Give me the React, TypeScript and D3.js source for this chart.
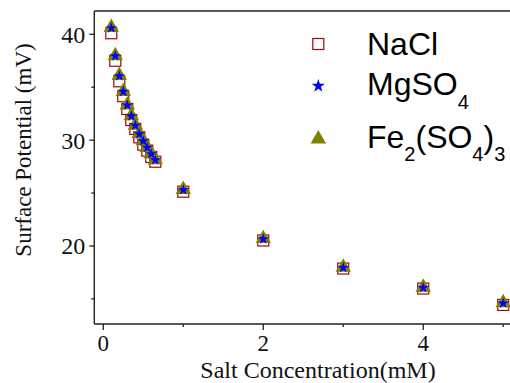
import React from "react";
import * as d3 from "d3";

const conc = [0.1, 0.15, 0.2, 0.25, 0.3, 0.35, 0.4, 0.45, 0.5, 0.55, 0.6, 0.65, 1, 2, 3, 4, 5];
const nacl = [40.1, 37.5, 35.56, 34.15, 32.94, 31.9, 31.06, 30.27, 29.57, 29.01, 28.41, 27.96, 25.13, 20.52, 17.87, 15.98, 14.43];
const mgso4 = [40.6, 37.95, 36.06, 34.58, 33.29, 32.28, 31.37, 30.58, 29.92, 29.29, 28.69, 28.12, 25.29, 20.66, 17.95, 16.06, 14.59];
const fe2so43 = [40.65, 37.97, 36.1, 34.6, 33.32, 32.3, 31.4, 30.6, 29.95, 29.31, 28.71, 28.15, 25.33, 20.7, 18.0, 16.1, 14.64];

const xMajorTicks = [0, 2, 4];
const xMinorTicks = [1, 3, 5];
const yMajorTicks = [20, 30, 40];
const yMinorTicks = [15, 25, 35];

const W = 510;
const H = 383;
const left = 94.3;
const top = 11;
const bottom = 324;
const right = 512;

const x = d3.scaleLinear().domain([-0.1125, 5.11]).range([left, right]);
const y = d3.scaleLinear().domain([12.63, 42.2]).range([bottom, top]);

const starPath = d3.symbol(d3.symbolStar, 38)()!;
const triPath = d3.symbol(d3.symbolTriangle, 104)()!;
const legStar = d3.symbol(d3.symbolStar, 55)()!;
const legTri = d3.symbol(d3.symbolTriangle, 104)()!;

const SERIF = "'Liberation Serif', 'Times New Roman', serif";
const SANS = "'Liberation Sans', Arial, sans-serif";
const SQ = "#9a0a0a";
const BLUE = "#0000ff";
const OLIVE = "#808000";

export default function App() {
  const sq = 11;
  return (
    <svg width={W} height={H} style={{ position: "absolute", left: 0, top: 0, background: "#fff" }}>
      {/* frame */}
      <line x1={left} x2={W} y1={top} y2={top} stroke="#222" strokeWidth={1.4} />
      <line x1={left} x2={left} y1={top} y2={bottom} stroke="#222" strokeWidth={1.4} />
      <line x1={left} x2={W} y1={bottom} y2={bottom} stroke="#222" strokeWidth={1.4} />

      {/* y ticks */}
      {yMajorTicks.map((t) => (
        <g key={"ym" + t}>
          <line x1={left - 5} x2={left} y1={y(t)} y2={y(t)} stroke="#222" strokeWidth={1.3} />
          <text x={left - 9} y={y(t)} dy="0.35em" textAnchor="end" fontFamily={SERIF} fontSize={24} fill="#111">
            {t}
          </text>
        </g>
      ))}
      {yMinorTicks.map((t) => (
        <line key={"yn" + t} x1={left - 3} x2={left} y1={y(t)} y2={y(t)} stroke="#222" strokeWidth={1.3} />
      ))}

      {/* x ticks */}
      {xMajorTicks.map((t) => (
        <g key={"xm" + t}>
          <line x1={x(t)} x2={x(t)} y1={bottom} y2={bottom + 6} stroke="#222" strokeWidth={1.3} />
          <text x={x(t)} y={351} textAnchor="middle" fontFamily={SERIF} fontSize={23} fill="#111">
            {t}
          </text>
        </g>
      ))}
      {xMinorTicks.map((t) => (
        <line key={"xn" + t} x1={x(t)} x2={x(t)} y1={bottom} y2={bottom + 3} stroke="#222" strokeWidth={1.3} />
      ))}

      {/* axis titles */}
      <text x={318} y={377.5} textAnchor="middle" fontFamily={SERIF} fontSize={24} fill="#111">
        Salt Concentration(mM)
      </text>
      <text
        transform="translate(31,150) rotate(-90)"
        textAnchor="middle"
        fontFamily={SERIF}
        fontSize={23}
        fill="#111"
      >
        Surface Potential (mV)
      </text>

      {/* data */}
      {conc.map((c, i) => (
        <rect
          key={"s" + i}
          x={x(c) - sq / 2}
          y={y(nacl[i]) - sq / 2}
          width={sq}
          height={sq}
          fill="none"
          stroke={SQ}
          strokeWidth={1.2}
        />
      ))}
      {conc.map((c, i) => (
        <path key={"t" + i} d={triPath} transform={`translate(${x(c)},${y(fe2so43[i])})`} fill={OLIVE} />
      ))}
      {conc.map((c, i) => (
        <path key={"st" + i} d={starPath} transform={`translate(${x(c)},${y(mgso4[i])})`} fill={BLUE} />
      ))}

      {/* legend */}
      <rect x={318.3 - 5.5} y={44 - 5.5} width={11} height={11} fill="none" stroke={SQ} strokeWidth={1.2} />
      <text x={367} y={55} fontFamily={SANS} fontSize={32} fill="#000">
        NaCl
      </text>
      <path d={legStar} transform="translate(318.3,86)" fill={BLUE} />
      <text x={367} y={95} fontFamily={SANS} fontSize={32} fill="#000">
        MgSO
        <tspan fontSize={20} dy={14}>4</tspan>
      </text>
      <path d={legTri} transform="translate(318.3,139)" fill={OLIVE} />
      <text x={367} y={148} fontFamily={SANS} fontSize={32} fill="#000">
        Fe
        <tspan fontSize={20} dy={13}>2</tspan>
        <tspan dy={-13}>(SO</tspan>
        <tspan fontSize={20} dy={13}>4</tspan>
        <tspan dy={-13}>)</tspan>
        <tspan fontSize={20} dy={13}>3</tspan>
      </text>
    </svg>
  );
}
